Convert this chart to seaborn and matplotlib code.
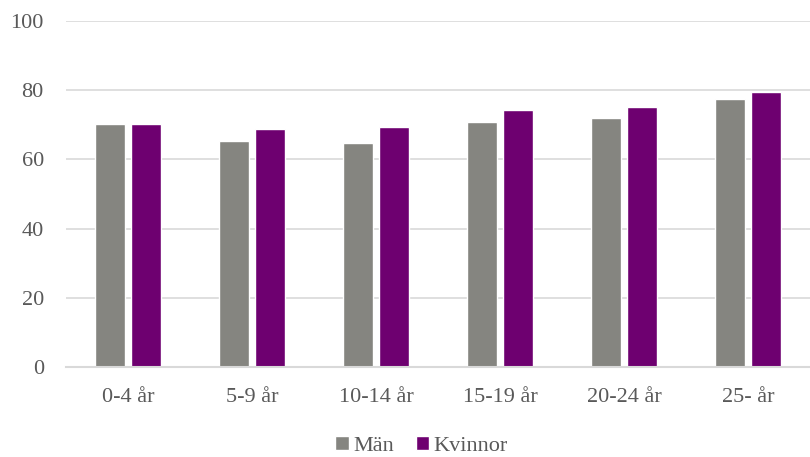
import matplotlib
matplotlib.use("Agg")
import matplotlib.pyplot as plt
import seaborn as sns
import pandas as pd

# age groups and shares per sex
categories = ["0-4 år", "5-9 år", "10-14 år", "15-19 år", "20-24 år", "25- år"]
man = [70.2, 65.2, 64.8, 70.8, 72.1, 77.4]
kvinnor = [70.1, 68.7, 69.3, 74.4, 75.1, 79.5]
series = ["Män", "Kvinnor"]
y_ticks = [0, 20, 40, 60, 80, 100]

df = pd.DataFrame({
    "Ålder": categories * 2,
    "Kön": [series[0]] * len(categories) + [series[1]] * len(categories),
    "Värde": man + kvinnor,
})

sns.set_style("white")
plt.rcParams["font.family"] = ["Liberation Serif", "DejaVu Serif"]
text_color = "#595959"
fs = 16

fig = plt.figure(figsize=(8.1, 4.57), dpi=100)
ax = fig.add_axes([66 / 810, 1 - 367 / 457, 1 - 66 / 810, (367 - 21) / 457])

sns.barplot(data=df, x="Ålder", y="Värde", hue="Kön", order=categories,
            hue_order=series, palette=["#858580", "#6E0070"],
            width=0.58, gap=0.19, saturation=1, ax=ax, legend=True)

ax.set_ylim(0, 100)
ax.set_yticks(y_ticks)
ax.yaxis.grid(True, color="#D9D9D9", linewidth=1.2)
ax.set_axisbelow(True)
for side in ["left", "right", "top"]:
    ax.spines[side].set_visible(False)
ax.spines["bottom"].set_color("#D9D9D9")
ax.spines["bottom"].set_linewidth(1.5)
ax.set_xlabel("")
ax.set_ylabel("")
ax.tick_params(axis="both", length=0, labelsize=fs, colors=text_color)
ax.tick_params(axis="y", pad=16)
ax.tick_params(axis="x", pad=15)

handles, labels = ax.get_legend_handles_labels()
ax.legend(handles, labels, loc="lower center", bbox_to_anchor=(0.478, -0.315),
          ncol=2, frameon=False, fontsize=fs, labelcolor=text_color,
          handlelength=0.6, handleheight=0.6, handletextpad=0.2, columnspacing=1.0)

plt.savefig("out.png", dpi=100)
